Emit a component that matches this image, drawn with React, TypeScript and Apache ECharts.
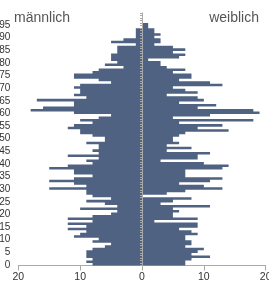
import React, { useEffect, useRef } from "react";
import * as echarts from "echarts";

const ages: string[] = Array.from({ length: 100 }, (_, i) => String(i));

const male: number[] = [
  8, 9, 8, 9, 9, 9, 8, 6, 5, 8,
  7, 11, 10, 9, 12, 9, 12, 8, 12, 8,
  5, 4, 10, 4, 6, 9, 5, 8, 9, 9,
  15, 9, 11, 15, 11, 8, 11, 11, 15, 12,
  8, 9, 7, 12, 7, 8, 7, 7, 9, 6,
  6, 8, 10, 10, 12, 11, 8, 10, 7, 5,
  11, 18, 16, 11, 11, 17, 9, 11, 10, 10,
  11, 10, 5, 7, 11, 11, 8, 7, 3, 6,
  4, 5, 5, 5, 4, 4, 4, 1, 5, 3,
  1, 1, 1, 1, 0, 0, 0, 0, 0, 0,
];

const female: number[] = [
  7, 7, 8, 11, 8, 9, 10, 7, 8, 8,
  7, 7, 9, 8, 6, 9, 9, 2, 9, 5,
  5, 6, 5, 11, 3, 5, 8, 0, 4, 7,
  13, 10, 6, 11, 13, 7, 7, 7, 13, 14,
  10, 3, 9, 9, 11, 4, 8, 4, 6, 5,
  5, 6, 7, 14, 9, 13, 6, 18, 5, 11,
  19, 18, 9, 12, 6, 10, 9, 4, 9, 7,
  5, 13, 11, 6, 8, 8, 5, 7, 4, 3,
  3, 1, 6, 7, 5, 7, 5, 2, 3, 3,
  2, 3, 2, 2, 1, 1, 0, 0, 0, 0,
];

const xTicks = { min: -20, max: 20, interval: 10 };
const leftTitle = "männlich";
const rightTitle = "weiblich";
const barColor = "#4f6282";
const font = "Liberation Sans, Arial, sans-serif";

function stairRender(values: number[], sign: number) {
  return (_params: any, api: any) => {
    const band = api.size([0, 1])[1];
    const points: number[][] = [];
    const base0 = api.coord([0, 0]);
    points.push([base0[0], base0[1] + band / 2]);
    values.forEach((v, i) => {
      const p = api.coord([sign * v, i]);
      points.push([p[0], p[1] + band / 2]);
      points.push([p[0], p[1] - band / 2]);
    });
    const last = api.coord([0, values.length - 1]);
    points.push([last[0], last[1] - band / 2]);
    return {
      type: "polygon",
      shape: { points },
      style: { fill: barColor },
      silent: true,
    };
  };
}

export default function App() {
  const ref = useRef<HTMLDivElement>(null);
  useEffect(() => {
    if (!ref.current) return;
    const chart = echarts.init(ref.current, null, { renderer: "svg" });
    chart.setOption({
      animation: false,
      textStyle: { fontFamily: font },
      graphic: [
        { type: "text", left: 14, top: 10, style: { text: leftTitle, fontSize: 14, fill: "#555", fontFamily: font } },
        { type: "text", right: 10, top: 10, style: { text: rightTitle, fontSize: 14, fill: "#555", fontFamily: font } },
      ],
      grid: { left: 18.3, right: 3.3, top: 13, bottom: 15.5, containLabel: false, outerBoundsMode: "none" },
      xAxis: {
        type: "value",
        min: xTicks.min,
        max: xTicks.max,
        interval: xTicks.interval,
        splitLine: { show: false },
        axisLine: { show: true, lineStyle: { color: "#aaa" } },
        axisTick: { show: true, length: 5, lineStyle: { color: "#aaa" } },
        axisLabel: {
          margin: 5.5,
          fontSize: 10.5,
          lineHeight: 10,
          color: "#333",
          formatter: (v: number) => String(Math.abs(v)),
        },
      },
      yAxis: {
        type: "category",
        data: ages,
        z: 3,
        axisLine: { show: true, onZero: true, lineStyle: { color: "#aaa" } },
        axisTick: { show: true, interval: 0, length: 2, lineStyle: { color: "#aaa" } },
        axisLabel: { interval: 4, fontSize: 10, color: "#333", margin: 8 },
        splitLine: { show: false },
      },
      series: [
        {
          name: leftTitle,
          type: "custom",
          renderItem: stairRender(male, -1),
          data: [[0, 0]],
          z: 1,
        },
        {
          name: rightTitle,
          type: "custom",
          renderItem: stairRender(female, 1),
          data: [[0, 0]],
          z: 1,
        },
      ],
    });
    return () => chart.dispose();
  }, []);
  return <div ref={ref} style={{ position: "fixed", left: 0, top: 0, width: 269, height: 281 }} />;
}
